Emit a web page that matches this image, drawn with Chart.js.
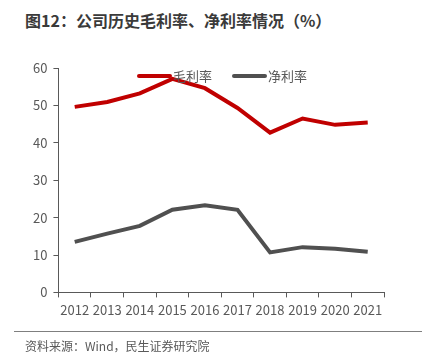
<!DOCTYPE html>
<html><head><meta charset="utf-8">
<script src="https://cdn.jsdelivr.net/npm/chart.js@4/dist/chart.umd.min.js"></script>
<style>
html,body{margin:0;padding:0;background:#fff;width:428px;height:361px;overflow:hidden;font-family:"Noto Sans CJK SC","Noto Sans",sans-serif;}
#title{position:absolute;left:25px;top:8px;font-size:16px;font-weight:bold;color:#3a3a3a;white-space:nowrap;}
#wrap{position:absolute;left:0;top:0;width:428px;height:361px;}
#rule{position:absolute;left:14px;top:331px;width:408px;height:0;border-top:1.5px solid #7f7f7f;}
#src{position:absolute;left:25px;top:337px;font-size:12px;color:#595959;white-space:nowrap;}
</style></head>
<body>
<div id="title">图12：公司历史毛利率、净利率情况（%）</div>
<div id="wrap"><canvas id="c" width="428" height="361"></canvas></div>
<div id="rule"></div>
<div id="src">资料来源：Wind，民生证券研究院</div>
<script>
const categories = ["2012","2013","2014","2015","2016","2017","2018","2019","2020","2021"];
const grossMargin = [49.6, 50.9, 53.2, 57.1, 54.6, 49.3, 42.7, 46.5, 44.8, 45.4];
const netMargin = [13.5, 15.7, 17.8, 22.1, 23.3, 22.1, 10.7, 12.1, 11.7, 10.9];
const yTicks = [0, 10, 20, 30, 40, 50, 60];
const seriesNames = ["毛利率", "净利率"];
const seriesColors = ["#C00000", "#505050"];

const axisColor = "#595959";
const fontFam = '"Noto Sans CJK SC","Noto Sans",sans-serif';

const legendPlugin = {
  id: 'inLegend',
  afterDraw(chart) {
    const ctx = chart.ctx;
    const ca = chart.chartArea;
    const y = ca.top + 8;
    const items = [{x: 139}, {x: 234}];
    ctx.save();
    ctx.font = '13px ' + fontFam;
    ctx.textBaseline = 'middle';
    items.forEach((it, i) => {
      ctx.strokeStyle = seriesColors[i];
      ctx.lineWidth = 4;
      ctx.lineCap = 'round';
      ctx.beginPath();
      ctx.moveTo(it.x, y);
      ctx.lineTo(it.x + 31, y);
      ctx.stroke();
      ctx.fillStyle = axisColor;
      ctx.fillText(seriesNames[i], it.x + 34, y);
    });
    ctx.restore();
  }
};

new Chart(document.getElementById('c'), {
  type: 'line',
  data: {
    labels: categories,
    datasets: [
      {label: seriesNames[0], data: grossMargin, borderColor: seriesColors[0], borderWidth: 4, pointRadius: 0, tension: 0, fill: false},
      {label: seriesNames[1], data: netMargin, borderColor: seriesColors[1], borderWidth: 4, pointRadius: 0, tension: 0, fill: false}
    ]
  },
  options: {
    responsive: false,
    animation: false,
    events: [],
    layout: {padding: {left: 27, right: 44, top: 68, bottom: 38}},
    plugins: {legend: {display: false}, tooltip: {enabled: false}, title: {display: false}},
    scales: {
      x: {
        type: 'category',
        offset: true,
        grid: {display: true, offset: true, drawOnChartArea: false, drawTicks: true, tickLength: 5, color: axisColor},
        border: {display: true, color: axisColor, width: 1},
        ticks: {color: axisColor, font: {size: 13, family: fontFam}, maxRotation: 0, autoSkip: false, padding: 5}
      },
      y: {
        min: 0, max: 60,
        afterBuildTicks(scale) { scale.ticks = yTicks.map(v => ({value: v})); },
        grid: {display: true, drawOnChartArea: false, drawTicks: true, tickLength: 5, color: axisColor},
        border: {display: true, color: axisColor, width: 1},
        ticks: {color: axisColor, font: {size: 13, family: fontFam}, padding: 6}
      }
    }
  },
  plugins: [legendPlugin]
});
</script>
</body></html>
